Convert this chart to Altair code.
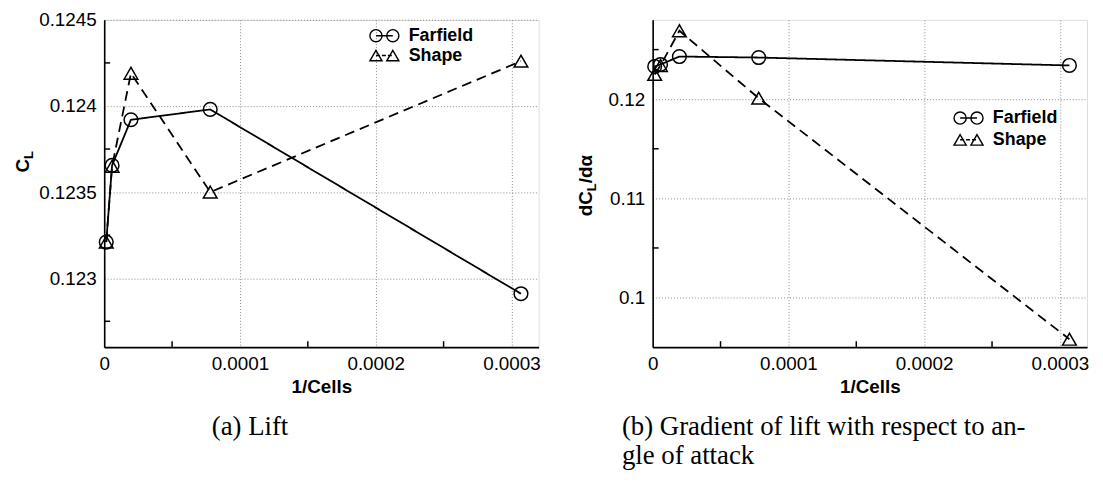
import altair as alt
import pandas as pd

# ---------------- data ----------------
series_names = ["Farfield", "Shape"]
inv_cells = [0.0000015, 0.0000058, 0.0000197, 0.0000781, 0.000307]
cl_farfield = [0.12321, 0.123655, 0.12392, 0.12398, 0.12291]
cl_shape = [0.12321, 0.12365, 0.12419, 0.12350, 0.12426]
dcl_farfield = [0.1233, 0.1235, 0.1243, 0.1242, 0.1234]
dcl_shape = [0.1225, 0.1234, 0.1269, 0.1201, 0.0958]

x_major = [0, 0.0001, 0.0002, 0.0003]
x_minor = [0.00005, 0.00015, 0.00025]
cl_major = [0.123, 0.1235, 0.124, 0.1245]
cl_minor = [0.12275, 0.12325, 0.12375, 0.12425]
dcl_major = [0.1, 0.11, 0.12]
dcl_minor = [0.105, 0.115, 0.125]

x_domain = [0, 0.00032]
cl_domain = [0.1226, 0.1245]
dcl_domain = [0.095, 0.128]

W, H = 438, 330
SANS = "Liberation Sans"
SERIF = "Liberation Serif"


def long_df(a, b):
    rows = []
    for s, vals in zip(series_names, [a, b]):
        for x, y in zip(inv_cells, vals):
            rows.append({"x": x, "y": y, "series": s})
    return pd.DataFrame(rows)


def one():
    return pd.DataFrame({"k": [0]})


def panel(df, ydomain, ymajor, yminor, legend_xy, title_parts, caption_lines, caption_x, caption_align):
    xs = alt.Scale(domain=x_domain, nice=False, zero=False)
    ys = alt.Scale(domain=ydomain, nice=False, zero=False)
    xaxis = alt.Axis(values=x_major, format="~g", grid=True, ticks=False,
                     gridColor="#8a8a8a", gridDash=[1, 2], gridWidth=1,
                     domainColor="black", domainWidth=1.6,
                     labelFont=SANS, labelFontSize=19, labelColor="black", labelPadding=8,
                     labelFlush=False,
                     title="1/Cells", titleFont=SANS, titleFontSize=19, titleFontWeight="bold",
                     titleColor="black", titlePadding=4)
    yaxis = alt.Axis(values=ymajor, format="~g", grid=True, ticks=False,
                     gridColor="#8a8a8a", gridDash=[1, 2], gridWidth=1,
                     domainColor="black", domainWidth=1.6,
                     labelFont=SANS, labelFontSize=19, labelColor="black", labelPadding=8,
                     labelFlush=False, title=None)
    X = lambda: alt.X("x:Q", scale=xs, axis=xaxis, title="1/Cells")
    Y = lambda: alt.Y("y:Q", scale=ys, axis=yaxis, title=None)
    base = alt.Chart(df)
    lines = base.mark_line(color="black", strokeWidth=1.8).encode(
        x=X(), y=Y(),
        strokeDash=alt.StrokeDash("series:N", scale=alt.Scale(domain=series_names, range=[[1, 0], [10, 6]]), legend=None),
        detail="series:N",
    )
    pts = base.mark_point(filled=False, color="black", strokeWidth=1.5, size=190, opacity=1).encode(
        x=X(), y=Y(),
        shape=alt.Shape("series:N", scale=alt.Scale(domain=series_names, range=["circle", "triangle-up"]), legend=None),
    )
    xminor = alt.Chart(pd.DataFrame({"x": x_minor})).mark_rule(color="black", strokeWidth=1.5).encode(
        x=X(), y=alt.value(H), y2=alt.value(H - 6))
    yminor = alt.Chart(pd.DataFrame({"y": yminor})).mark_rule(color="black", strokeWidth=1.5).encode(
        y=Y(), x=alt.value(0), x2=alt.value(6))
    layers = [lines, pts, xminor, yminor]

    # custom legend
    lx, ly, dy = legend_xy
    for i, (s, shp, dash) in enumerate(zip(series_names, ["circle", "triangle-up"], [[1, 0], [4, 2]])):
        yy = ly + i * dy
        layers.append(alt.Chart(one()).mark_rule(color="black", strokeWidth=1.5, strokeDash=dash).encode(
            x=alt.value(lx), x2=alt.value(lx + 17), y=alt.value(yy)))
        for k in [0, 17]:
            layers.append(alt.Chart(one()).mark_point(filled=False, color="black", strokeWidth=1.4, size=150, shape=shp, opacity=1).encode(
                x=alt.value(lx + k), y=alt.value(yy)))
        layers.append(alt.Chart(one()).mark_text(align="left", baseline="middle", font=SANS, fontSize=18,
                                                 fontWeight="bold", color="black").encode(
            x=alt.value(lx + 33), y=alt.value(yy), text=alt.value(s)))

    # y-axis title pieces (rotated)
    for txt, bx, ystart, fs in title_parts:
        layers.append(alt.Chart(one()).mark_text(align="left", baseline="alphabetic", angle=270, font=SANS,
                                                 fontSize=fs, fontWeight="bold", color="black").encode(
            x=alt.value(bx), y=alt.value(ystart), text=alt.value(txt)))

    # caption
    for j, line in enumerate(caption_lines):
        layers.append(alt.Chart(one()).mark_text(align=caption_align, baseline="middle", font=SERIF,
                                                 fontSize=27, color="black").encode(
            x=alt.value(caption_x), y=alt.value(411 + 29 * j), text=alt.value(line)))

    return alt.layer(*layers).properties(width=W, height=H)


left = panel(long_df(cl_farfield, cl_shape), cl_domain, cl_major, cl_minor,
             (274, 16, 20),
             [("C", -76, 154, 19), ("L", -72, 140.3, 13)],
             ["(a) Lift"], 147, "center")
right = panel(long_df(dcl_farfield, dcl_shape), dcl_domain, dcl_major, dcl_minor,
              (310, 99, 22),
              [("dC", -61, 198, 19), ("L", -57, 172.7, 13), ("/dα", -61, 164.8, 19)],
              ["(b) Gradient of lift with respect to an-", "gle of attack"], -31, "left")

chart = alt.hconcat(left, right, spacing=115, bounds="flush").properties(
    padding={"left": 5, "top": 0, "right": 5, "bottom": 5}
).configure_view(strokeWidth=0).configure(background="white")

chart.save("out.html", embed_options={"renderer": "svg", "actions": False})
